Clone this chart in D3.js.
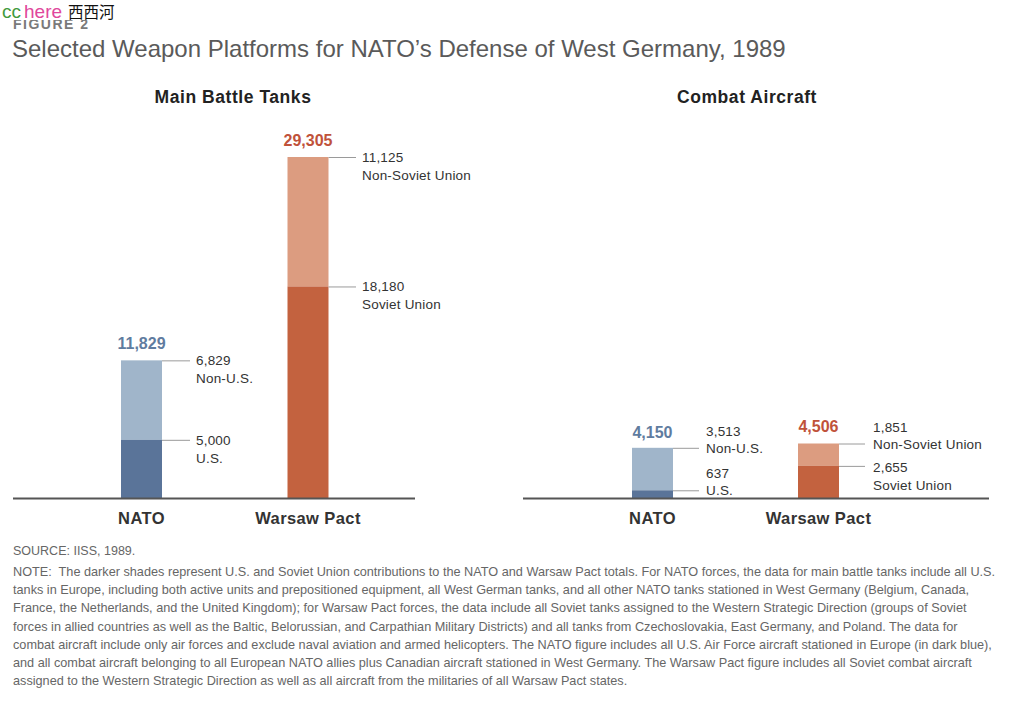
<!DOCTYPE html>
<html>
<head>
<meta charset="utf-8">
<script src="https://cdn.jsdelivr.net/npm/d3@7"></script>
<style>
  html, body { margin: 0; padding: 0; background: #fff; }
  svg { display: block; font-family: "Liberation Sans", Arial, Helvetica, sans-serif; }
</style>
</head>
<body>
<svg id="chart" width="1024" height="704"></svg>
<script>
// ---------- DATA ----------
const panels = ["Main Battle Tanks", "Combat Aircraft"];
const sides = ["NATO", "Warsaw Pact"];
const tankTotals = [11829, 29305];
const tankDark = [5000, 18180];       // U.S. / Soviet Union
const tankLight = [6829, 11125];      // Non-U.S. / Non-Soviet Union
const airTotals = [4150, 4506];
const airDark = [637, 2655];
const airLight = [3513, 1851];
const darkNames = ["U.S.", "Soviet Union"];
const lightNames = ["Non-U.S.", "Non-Soviet Union"];
const noteLines = [
  "NOTE:  The darker shades represent U.S. and Soviet Union contributions to the NATO and Warsaw Pact totals. For NATO forces, the data for main battle tanks include all U.S.",
  "tanks in Europe, including both active units and prepositioned equipment, all West German tanks, and all other NATO tanks stationed in West Germany (Belgium, Canada,",
  "France, the Netherlands, and the United Kingdom); for Warsaw Pact forces, the data include all Soviet tanks assigned to the Western Strategic Direction (groups of Soviet",
  "forces in allied countries as well as the Baltic, Belorussian, and Carpathian Military Districts) and all tanks from Czechoslovakia, East Germany, and Poland. The data for",
  "combat aircraft include only air forces and exclude naval aviation and armed helicopters. The NATO figure includes all U.S. Air Force aircraft stationed in Europe (in dark blue),",
  "and all combat aircraft belonging to all European NATO allies plus Canadian aircraft stationed in West Germany. The Warsaw Pact figure includes all Soviet combat aircraft",
  "assigned to the Western Strategic Direction as well as all aircraft from the militaries of all Warsaw Pact states."
];

// ---------- STYLE ----------
const darkColor = ["#5a7499", "#c3623f"];
const lightColor = ["#a0b5ca", "#dc9c80"];
const totalColor = ["#5f7ca0", "#c0523a"];
const fmt = d3.format(",");
const BW = 41;

const svg = d3.select("#chart");

// header
svg.append("text").attr("x", 13).attr("y", 29)
  .attr("font-size", 14).attr("font-weight", "bold").attr("fill", "#7a7a7a")
  .attr("letter-spacing", 1.5).text("FIGURE 2");
svg.append("rect").attr("x", 0).attr("y", 0).attr("width", 200).attr("height", 20).attr("fill", "#fff");
const wm = svg.append("text").attr("x", 2).attr("y", 18).attr("font-size", 19);
wm.append("tspan").attr("fill", "#3f9a3c").text("cc");
wm.append("tspan").attr("fill", "#e0479c").attr("dx", 3).text("here");
wm.append("tspan").attr("fill", "#111").attr("dx", 6)
  .attr("font-family", "'Noto Sans CJK SC', sans-serif").attr("font-size", 15.5).text("西西河");

svg.append("text").attr("x", 12).attr("y", 57)
  .attr("font-size", 24).attr("fill", "#5a5a5a")
  .text("Selected Weapon Platforms for NATO\u2019s Defense of West Germany, 1989");

// panels
const panelDefs = [
  { title: panels[0], cx: 233, axis: [13, 415], centers: [141.5, 308], totals: tankTotals, dark: tankDark, light: tankLight,
    y: d3.scaleLinear().domain([0, 29305]).range([498, 157]), lineEnd: [190, 356], textX: [196, 362], mode: "below" },
  { title: panels[1], cx: 747, axis: [523, 989], centers: [652.5, 818.5], totals: airTotals, dark: airDark, light: airLight,
    y: d3.scaleLinear().domain([0, 4506]).range([498, 443.5]), lineEnd: [699, 865], textX: [706, 873], mode: "around" }
];

panelDefs.forEach((p, pi) => {
  const g = svg.append("g");
  g.append("text").attr("x", p.cx).attr("y", 103).attr("text-anchor", "middle")
    .attr("font-size", 17.5).attr("letter-spacing", 0.55).attr("font-weight", "bold").attr("fill", "#222").text(p.title);

  const x = d3.scalePoint().domain(sides).range(p.centers);

  sides.forEach((s, i) => {
    const x0 = x(s) - BW / 2, x1 = x0 + BW;
    const yTop = p.y(p.dark[i] + p.light[i]);
    const ySplit = p.y(p.dark[i]);
    g.append("rect").attr("x", x0).attr("y", yTop).attr("width", BW).attr("height", ySplit - yTop).attr("fill", lightColor[i]);
    g.append("rect").attr("x", x0).attr("y", ySplit).attr("width", BW).attr("height", p.y(0) - ySplit).attr("fill", darkColor[i]);

    // total label
    g.append("text").attr("x", x(s)).attr("y", p.y(p.totals[i]) - (pi === 1 && i === 0 ? 9.5 : 11.5))
      .attr("text-anchor", "middle").attr("font-size", 16).attr("font-weight", "bold")
      .attr("fill", totalColor[i]).text(fmt(p.totals[i]));

    // leader lines and segment labels
    const tx = p.textX[i];
    [[yTop, p.light[i], lightNames[i]], [ySplit, p.dark[i], darkNames[i]]].forEach(([yy, v, nm], k) => {
      g.append("line").attr("x1", x1).attr("x2", p.lineEnd[i]).attr("y1", yy + 0.5).attr("y2", yy + 0.5)
        .attr("stroke", "#9a9a9a").attr("stroke-width", 1);
      let yv, yn;
      if (p.mode === "below") { yv = yy + 5; yn = yy + 23; }
      else if (i === 0 || k === 0) { yv = yy - 12; yn = yy + 5; }
      else { yv = yy + 6; yn = yy + 24; }
      g.append("text").attr("x", tx).attr("y", yv).attr("font-size", 13.5).attr("letter-spacing", 0.2).attr("fill", "#333").text(fmt(v));
      g.append("text").attr("x", tx).attr("y", yn).attr("font-size", 13.5).attr("letter-spacing", 0.2).attr("fill", "#333").text(nm);
    });

    // category label
    g.append("text").attr("x", x(s)).attr("y", 524).attr("text-anchor", "middle")
      .attr("font-size", 16.5).attr("letter-spacing", 0.4).attr("font-weight", "bold").attr("fill", "#333").text(s);
  });

  // baseline axis
  g.append("line").attr("x1", p.axis[0]).attr("x2", p.axis[1]).attr("y1", p.y(0) + 0.5).attr("y2", p.y(0) + 0.5)
    .attr("stroke", "#555").attr("stroke-width", 2);
});

// footer
svg.append("text").attr("x", 13).attr("y", 555).attr("font-size", 12.5).attr("fill", "#666").text("SOURCE: IISS, 1989.");
noteLines.forEach((t, i) => {
  svg.append("text").attr("x", 13).attr("y", 576 + i * 18.2).attr("font-size", 12.7)
    .attr("fill", "#666").attr("xml:space", "preserve").style("white-space", "pre").text(t);
});
</script>
</body>
</html>
